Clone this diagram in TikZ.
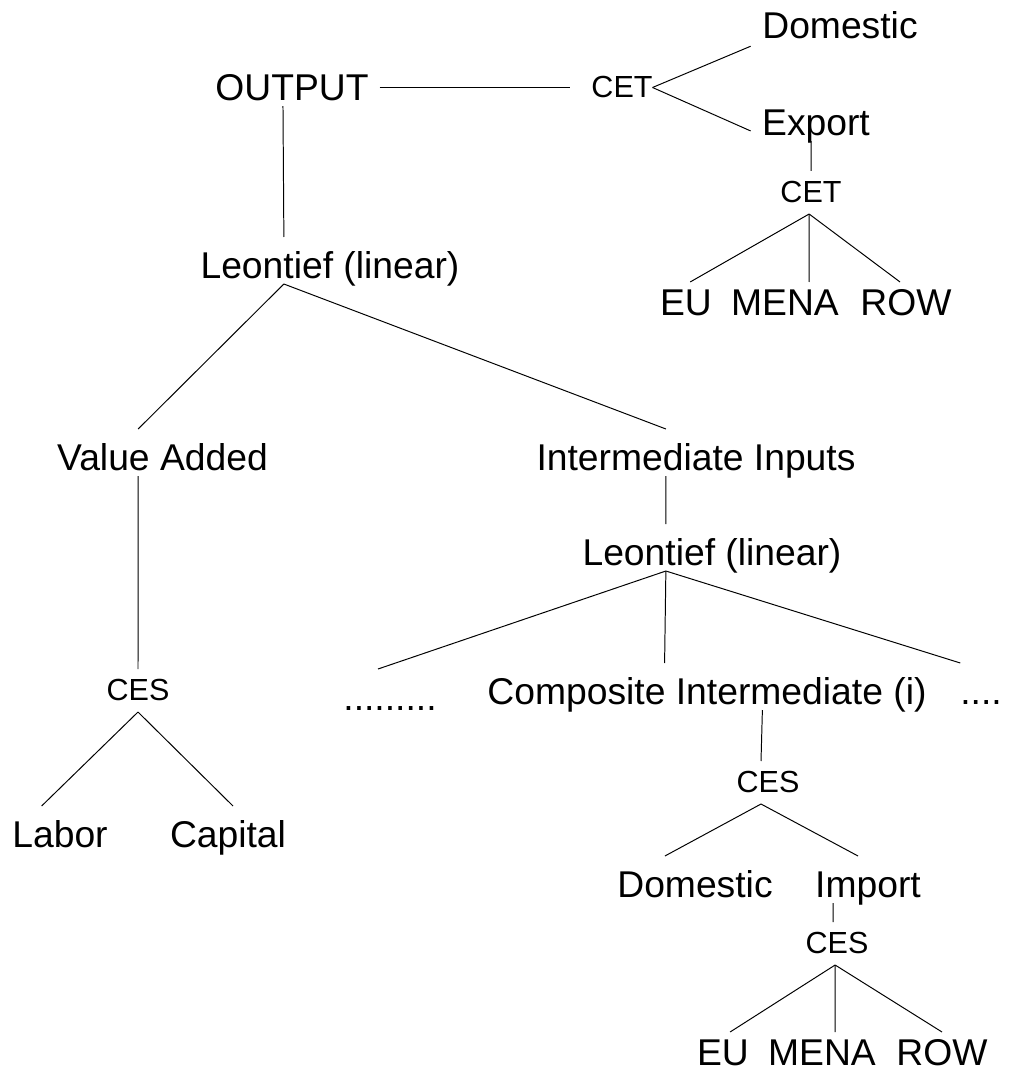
\documentclass[tikz,border=0pt]{standalone}
\usepackage{fontspec}
\setmainfont{Liberation Sans}
\begin{document}
\begin{tikzpicture}[x=0.025cm,y=-0.025cm,line width=0.7pt,
	big/.style={inner sep=0pt,outer sep=0pt,anchor=base,font=\fontsize{26.5}{30}\selectfont,text height=29.16pt,text depth=4.27pt},
	leaf/.style={big,text height=23.47pt},
	op/.style={inner sep=0pt,outer sep=0pt,anchor=base,font=\fontsize{21.7}{25}\selectfont,text height=22.05pt,text depth=8.54pt}]

\useasboundingbox (0,0) rectangle (1013,1072);

\node[big] (out) at (292,100) {OUTPUT};
\node[op] (cet1) at (622,97) {CET};
\node[big] (dom1) at (840,38) {Domestic};
\node[big] (exp) at (816,135) {Export};
\node[op] (cet2) at (811,202) {CET};
\node[leaf] (eu1) at (686,315) {EU};
\node[leaf] (mena1) at (785,315) {MENA};
\node[leaf] (row1) at (906,315) {ROW};
\node[big] (lin1) at (330,278) {Leontief (linear)};
\node[big] (va) at (162.5,470) {Value Added};
\node[big] (ii) at (696,470) {Intermediate Inputs};
\node[op] (ces1) at (138,700) {CES};
\node[big] (lab) at (60,847) {Labor};
\node[big] (cap) at (228,847) {Capital};
\node[big] (lin2) at (712,565) {Leontief (linear)};
\node[big] (dots1) at (390,710) {.........};
\node[big] (comp) at (707,704) {Composite Intermediate (i)};
\node[big] (dots2) at (981,704) {....};
\node[op] (ces2) at (768,792) {CES};
\node[big] (dom2) at (695,897) {Domestic};
\node[big] (imp) at (868,897) {Import};
\node[op] (ces3) at (837,953) {CES};
\node[leaf] (eu2) at (723,1065) {EU};
\node[leaf] (mena2) at (822,1065) {MENA};
\node[leaf] (row2) at (942,1065) {ROW};

\draw[shorten <=7.8pt,shorten >=15.6pt] (out.east |- cet1.west) -- (cet1.west);
\foreach \n/\a in {dom1/195,exp/199}
	\draw[shorten >=9pt] (cet1.east) -- (\n.\a);
\draw (exp.258) -- (cet2.north);
\foreach \n/\a in {eu1/78,mena1/39,row1/107}
	\draw (cet2.265) -- (\n.\a);
\draw (out.249) -- (lin1.153);
\foreach \n/\a in {va/136,ii/142}
	\draw (lin1.207) -- (\n.\a);
\draw (va.224) -- (ces1.north);
\foreach \n/\a in {lab/128,cap/78}
	\draw (ces1.south) -- (\n.\a);
\draw (ii.218) -- (lin2.153);
\foreach \n/\a in {dots1/117,comp/151,dots2/north west}
	\draw (lin2.207) -- (\n.\a);
\draw (comp.337) -- (ces2.108);
\foreach \n/\a in {dom2/142,imp/113}
	\draw (ces2.252) -- (\n.\a);
\draw (imp.214) -- (ces3.100);
\foreach \n/\a in {eu2/70,mena2/56,row2/north}
	\draw (ces3.265) -- (\n.\a);

\end{tikzpicture}
\end{document}
